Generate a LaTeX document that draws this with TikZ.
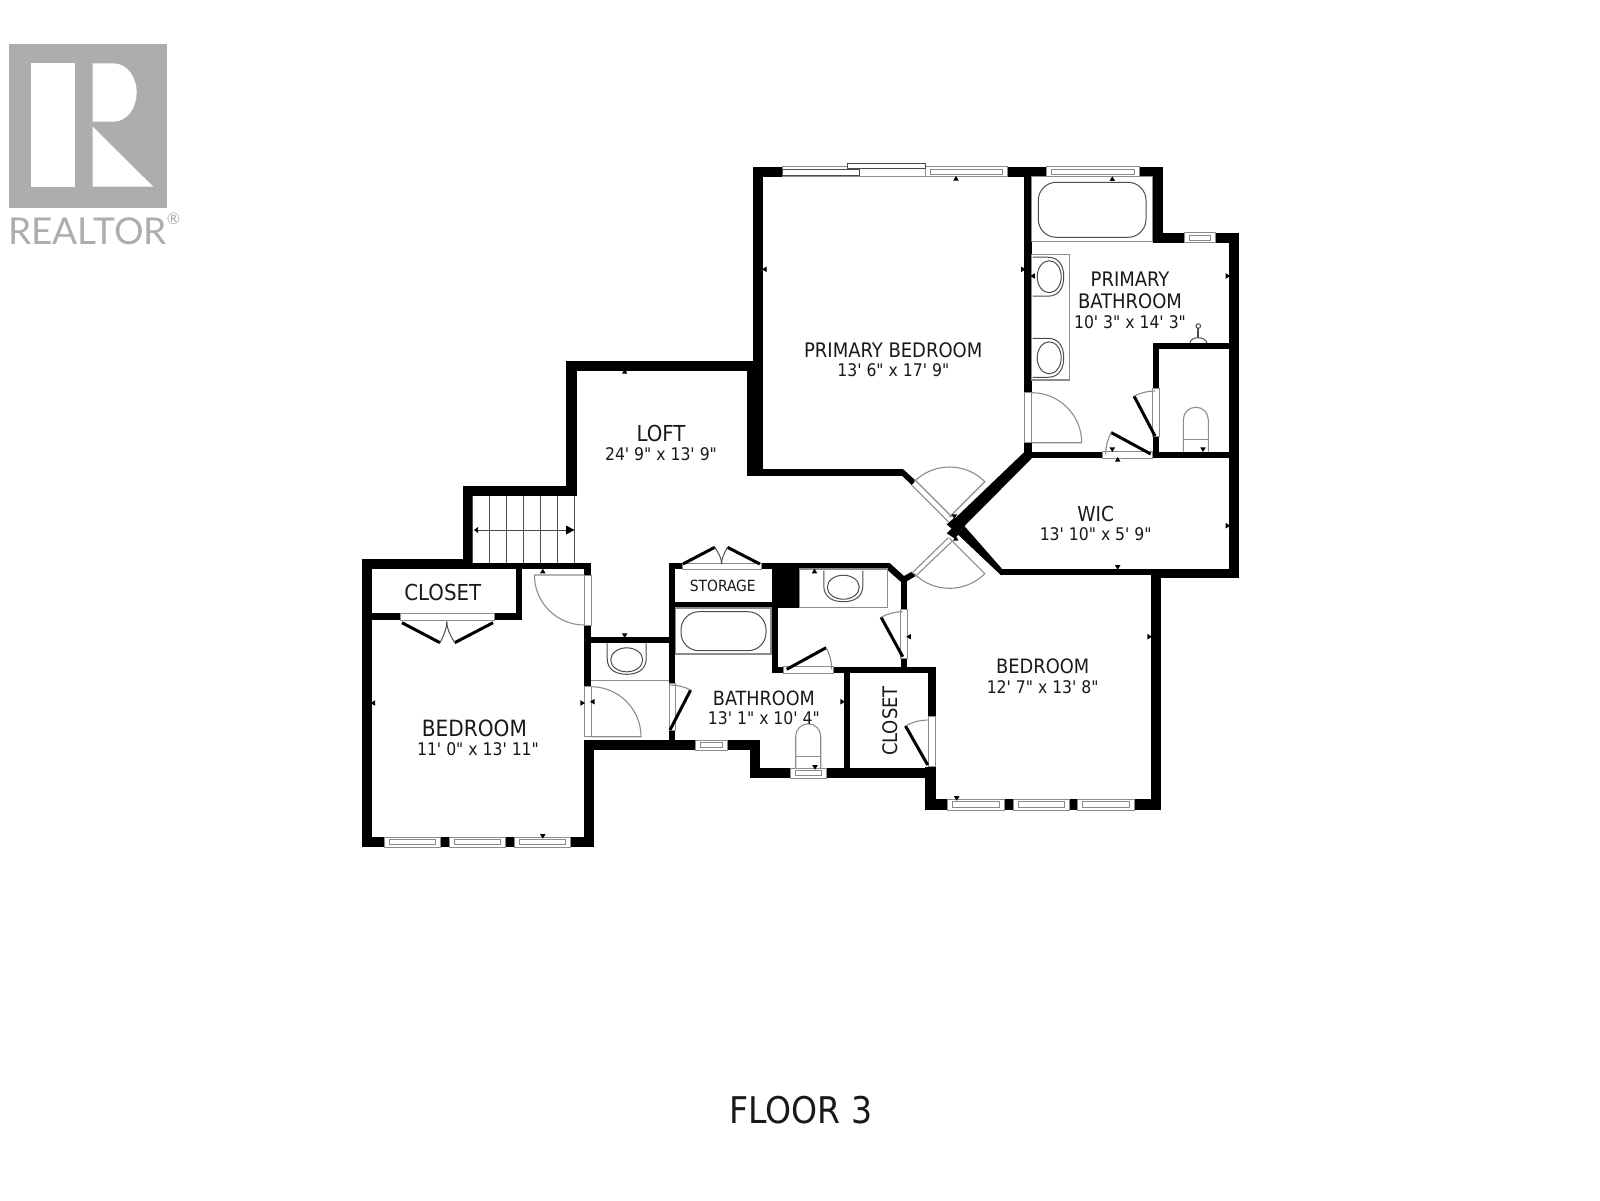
\documentclass[tikz,border=0pt]{standalone}
\usepackage{fontspec}
\newfontfamily\planfont{DejaVu Sans Condensed}[Ligatures=NoCommon]
\newfontfamily\logofont{Lato}
\usepackage{xcolor}
\definecolor{logogray}{gray}{.68}
\definecolor{framegray}{gray}{.55}
\tikzset{
  wall/.style={fill=black},
  frame/.style={draw=framegray,fill=white,line width=.5pt},
  fixture/.style={draw=black!70,line width=.5pt},
  swing/.style={draw=framegray,line width=.55pt},
  leaf/.style={draw=black,line width=1.5pt},
  roomtext/.style={text=black!90,inner sep=0pt,font=\planfont\fontsize{#1}{#1}\selectfont},
  roomtext/.default=8.7
}
\begin{document}
\begin{tikzpicture}[x=.5pt,y=-.5pt]
\useasboundingbox (0,0) rectangle (1600,1200);
% Logo
\fill[logogray] (9,44) rectangle (166.7,208.3);
\fill[white] (31,63.3) rectangle (75,186.7);
\fill[white] (92.7,63.3) -- (113,63.3) .. controls (128,63.3) and (136.7,78) .. (136.7,92.5) .. controls (136.7,107) and (128,121.7) .. (113,121.7) -- (92.7,121.7) -- cycle;
\fill[white] (92.7,126.7) -- (153.3,186.7) -- (92.7,186.7) -- cycle;
\node[inner sep=0pt,text=logogray,font=\logofont\fontsize{18.5}{18.5}\selectfont] (logotext) at (87.5,231.5) {REALTOR};
\node[inner sep=0pt,text=logogray,font=\logofont\fontsize{8}{8}\selectfont] (logomark) at (173.5,219) {®};
% Straight walls
\foreach \xa/\ya/\xb/\yb in {
  752.7/166.7/782/176.7, 1007.7/166.7/1046.7/176.7, 1139.3/166.7/1163.3/176.7,
  752.7/166.7/763.3/476, 746.7/360.7/763.3/476, 566.2/360.7/752.7/370.7,
  566.2/360.7/576.5/495.7, 462.6/485.7/576.5/495.7, 462.6/485.7/472.5/569,
  361.7/559.3/472.5/569.3, 472.5/562.7/591/569.3, 361.7/559.3/371.6/847.3,
  361.7/837.3/594.2/847.3, 584.4/740/594.2/847.3, 584.4/562.7/591/575,
  584.4/625.7/591/686.7, 516/569/521.9/620, 371.6/613.3/521.9/620,
  591/636.7/675.3/643.3, 669/562.7/675.3/683.3, 669/730/675.3/750,
  584.4/740/760/750, 750.4/740/760/778.3, 750.4/768.3/935/778.3,
  844/673.3/850/768.3, 834.3/666.7/935.7/673.3, 771.8/606.7/778/673.3,
  771.8/666.7/783.6/673.3, 771.8/569/799.5/608, 669/563/889.6/569.3,
  669/601.7/772/608.3, 900.7/576/907.3/609.3, 900.7/658.3/907.3/670,
  928/666.7/935.7/716.7, 925/766.7/935.7/810, 925/799.3/1161/810,
  1151/569/1161/810, 1000/568.5/1239.3/575, 1161/568.5/1239.3/578.3,
  1229.3/232.7/1239.3/578.3, 1152.7/232.7/1239.3/242.7, 1152.7/166.7/1163.3/242.7,
  1024.3/166.7/1031.7/392.7, 1024.3/442.7/1031.7/458, 746.7/469.3/903.3/476,
  1031/451.7/1102.7/458.3, 1152.7/451.7/1229.3/458.3, 1152.7/342.7/1159.3/388.3,
  1152.7/436.7/1159.3/458.3, 1152.7/342.7/1229.3/349.3}
  \fill[wall] (\xa,\ya) rectangle (\xb,\yb);
% Angled walls
\fill[wall] (903.3,469.3) -- (915.7,480.7) -- (911.7,485) -- (902.3,476) -- cycle;
\fill[wall] (1024.3,452) -- (954.3,519) -- (963,527.5) -- (1031.7,458.3) -- cycle;
\fill[wall] (965,526.7) -- (1001.7,568.5) -- (1001.7,575) -- (1000,574.3) -- (956.7,533.3) -- cycle;
\fill[wall] (946.7,524.3) -- (954.3,517.7) -- (965,526.7) -- (956.7,533.3) -- cycle;
\fill[wall] (946.7,533.3) -- (951.7,528.3) -- (958.3,535) -- (954.3,538.3) -- cycle;
\fill[wall] (889.6,563) -- (904,576) -- (911.7,571.7) -- (915.7,576) -- (907.3,581) -- (900.7,581.7) -- (886.7,569.3) -- cycle;
% Windows
\foreach \xa/\ya/\xb/\yb in {
  925/166.7/1007.7/176.7, 1046.7/166.7/1139.3/176.7, 1184/232.7/1215/242.7,
  384.3/837.3/440/847.3, 449.5/837.3/505.3/847.3, 514.8/837.3/570.5/847.3,
  947.3/799.3/1004/810, 1013.3/799.3/1069.3/810, 1077.3/799.3/1134/810,
  695/740/727.5/750, 790/768.3/826.4/778.3}{
  \filldraw[frame] (\xa,\ya) rectangle (\xb,\yb);
  \draw[frame] (\xa+5,\ya+2.5) rectangle (\xb-5,\yb-2.5);
}
% Sliding door
\filldraw[frame] (782,166.7) rectangle (925,176.7);
\filldraw[frame,draw=black!70] (782,169.3) rectangle (859.3,175);
\filldraw[frame,draw=black!70] (847.3,163.3) rectangle (925,168.3);
% Door openings
\foreach \xa/\ya/\xb/\yb in {
  584.4/575/591/625.7, 584.4/686.7/591/736.7, 669/683.3/675.3/730,
  900.7/609.3/907.3/658.3, 928/716.7/935.7/766.7, 1024.3/392.7/1031.7/442.7,
  1152.7/388.3/1159.3/436.7, 1102.7/451.7/1152.7/458.3, 783.6/666.7/833.5/673.3,
  682.9/563/761/569.3, 400.5/613.3/494.2/620}
  \filldraw[frame] (\xa,\ya) rectangle (\xb,\yb);
\draw[swing] (915.7,480.7) -- (951.7,516.7) (911.7,485) -- (948.3,521.7);
\draw[swing] (948.3,537.7) -- (911.7,573.3) (951.7,541.7) -- (915.7,576);
% Full swings
\foreach \cx/\cy/\sa/\ea in {584.4/575/180/90, 591/736.7/0/-90, 1031.7/442.7/0/-90,
  949.5/517/-45/-135, 949.5/538.3/45/135}{
  \draw[swing] (\cx,\cy) -- +(\sa:50) arc[start angle=\sa,end angle=\ea,radius=50];
}
% Small swings
\foreach \cx/\cy/\sa/\ea in {670/730/-62.7/-90, 902.7/656.7/-118.7/-90, 786.7/669.3/-28.7/0,
  927.7/765/-119.6/-90, 1155/436/-117.7/-90, 1150.7/454/-151.5/-180}{
  \draw[leaf] (\cx,\cy) -- +(\sa:45);
  \draw[swing] (\cx,\cy) ++(\sa:45) arc[start angle=\sa,end angle=\ea,radius=45];
}
% Folding doors
\foreach \xa/\ya/\xb/\yb/\xc/\yc in {
  402/622.7/440/642.7/446.8/621.7, 493/622.7/454.7/642.7/446.8/621.7,
  682.9/564/714.8/547.3/721.6/564, 759.9/564/727.5/547.3/721.6/564}{
  \draw[leaf] (\xa,\ya) -- (\xb,\yb);
  \draw[fixture] (\xb,\yb) .. controls (\xb*.3+\xc*.7,\yb*.55+\yc*.45) and (\xc,\yb*.3+\yc*.7) .. (\xc,\yc);
}
% Tubs and counters
\draw[swing] (675.3,608) rectangle (771,654);
\draw[fixture,rounded corners=9pt] (681,611.7) rectangle (766,650.7);
\draw[swing] (1031.7,176.7) rectangle (1152.7,241.7);
\draw[fixture,rounded corners=9pt] (1038.3,182.3) rectangle (1146,237.3);
\draw[swing] (799.5,569) rectangle (887.3,607.3);
\draw[swing] (1031.7,254.3) rectangle (1069.3,380);
\draw[swing] (591,680.7) -- (669,680.7);
% Sinks
\foreach \sx/\sy/\ra in {626.7/643.3/0, 843.3/570.7/0, 1032.7/276.7/90, 1032.7/357.8/90}{
  \begin{scope}[shift={(\sx,\sy)},rotate=\ra]
    \draw[fixture] (-19.5,0) -- (-19.5,15) .. controls (-19.5,27) and (-10,31) .. (0,31) .. controls (10,31) and (19.5,27) .. (19.5,15) -- (19.5,0);
    \draw[fixture] (0,16.5) ellipse (16 and 12);
  \end{scope}
}
% Toilets
\foreach \sx/\sy in {1195.8/451.7, 808.2/768.3}{
  \draw[swing] (\sx-12.5,\sy) -- (\sx-12.5,\sy-32) arc[start angle=180,end angle=360,radius=12.5] -- (\sx+12.5,\sy);
  \draw[swing] (\sx-12.5,\sy-12) -- (\sx+12.5,\sy-12);
}
% Tap
\draw[fixture,line width=.9pt] (1198.3,328) -- (1198.3,338);
\draw[fixture] (1190,342.7) .. controls (1191,336) and (1205,336) .. (1207,342.7);
\draw[fixture] (1198.3,326) circle (2.3);
% Stairs
\foreach \x in {472.5,489.5,506,523,540.5,557.5,574.5}
  \draw[fixture] (\x,495.7) -- (\x,562.7);
\draw[fixture] (476,530) -- (568,530);
\fill (574.5,530) -- (566,525.5) -- (566,534.5) -- cycle;
\fill (474,530) -- (478,527) -- (478,533) -- cycle;
% Measure marks
\foreach \x/\y/\a in {
  624.7/372/-90, 624.7/635/90, 542.8/571.7/-90, 542.8/835.7/90, 373.6/703/180, 582/703/0,
  593/701.7/180, 842/701.7/0, 815/766.7/90, 814.5/571.7/-90, 909.3/636.7/180, 1149/636.7/0,
  956.7/797.7/90, 1117.7/566.7/90, 956/179/-90, 1112.3/179.3/-90, 765/269.3/180,
  1022.7/269.3/0, 1033.3/276/180, 1227.3/276/0, 1112.3/449/90, 1117.7/460/-90,
  1227.3/525.7/0, 1203/449/90, 954.3/516/90, 955.7/539/-90}
  \fill (\x,\y) +(\a:3) -- +(\a+120:3.2) -- +(\a-120:3.2) -- cycle;
% Room labels
\node[roomtext=10] (primarybed) at (893.3,350) {PRIMARY BEDROOM};
\node[roomtext] (primarybeddim) at (893.3,370.5) {13' 6" x 17' 9"};
\node[roomtext=10] (primarybathA) at (1130,279.3) {PRIMARY};
\node[roomtext=10] (primarybathB) at (1130,301) {BATHROOM};
\node[roomtext] (primarybathdim) at (1130,321.7) {10' 3" x 14' 3"};
\node[roomtext=10.3] (wic) at (1095.7,514) {WIC};
\node[roomtext] (wicdim) at (1095.7,534.3) {13' 10" x 5' 9"};
\node[roomtext=11] (loft) at (661,433.3) {LOFT};
\node[roomtext] (loftdim) at (661,454) {24' 9" x 13' 9"};
\node[roomtext=11] (closetA) at (442.8,592.3) {CLOSET};
\node[roomtext=7.7] (storage) at (722.8,585.7) {STORAGE};
\node[roomtext=11.2] (bedroomA) at (474.4,728.3) {BEDROOM};
\node[roomtext] (bedroomAdim) at (478,749.3) {11' 0" x 13' 11"};
\node[roomtext=9.8] (bath) at (763.9,698.3) {BATHROOM};
\node[roomtext] (bathdim) at (763.9,718.3) {13' 1" x 10' 4"};
\node[roomtext=10,rotate=90] (closetB) at (890.7,721) {CLOSET};
\node[roomtext=9.9] (bedroomB) at (1042.7,666.7) {BEDROOM};
\node[roomtext] (bedroomBdim) at (1042.7,686.7) {12' 7" x 13' 8"};
\node[roomtext=18.4] (floorname) at (800.8,1110) {FLOOR 3};
\end{tikzpicture}
\end{document}
